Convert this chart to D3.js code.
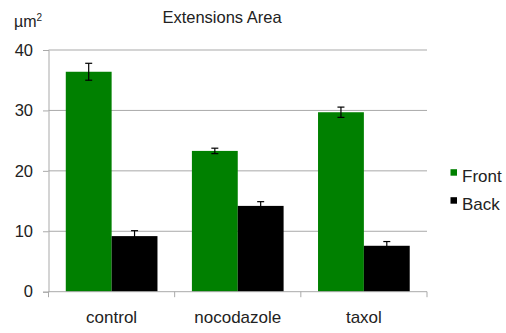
<!DOCTYPE html>
<html>
<head>
<meta charset="utf-8">
<script src="https://cdn.jsdelivr.net/npm/d3@7"></script>
<style>
  html, body { margin: 0; padding: 0; background: #fff; }
  svg { display: block; font-family: "Liberation Sans", Arial, sans-serif; }
</style>
</head>
<body>
<svg id="chart" width="506" height="333"></svg>
<script>
// Treatment groups and measured extension area (µm²), mean ± error
const categories = ["control", "nocodazole", "taxol"];
const seriesNames = ["Front", "Back"];
const frontValues = [36.4, 23.3, 29.7];
const frontErrors = [1.4, 0.45, 0.85];
const backValues = [9.2, 14.2, 7.6];
const backErrors = [0.9, 0.7, 0.7];
const yTicks = [0, 10, 20, 30, 40];

const colors = { Front: "#008000", Back: "#000000" };

const svg = d3.select("#chart");
const margin = { left: 48.5, right: 79, top: 50, bottom: 41.3 };
const W = 506, H = 333;
const plotW = W - margin.left - margin.right;
const plotH = H - margin.top - margin.bottom;

const g = svg.append("g").attr("transform", `translate(${margin.left},${margin.top})`);

const x = d3.scaleBand().domain(categories).range([0, plotW]).paddingInner(0.273).paddingOuter(0.137);
const xBand = d3.scaleBand().domain(d3.range(categories.length)).range([0, plotW]);
const xSeries = d3.scaleBand().domain(seriesNames).range([0, x.bandwidth()]);
const y = d3.scaleLinear().domain([0, 40]).range([plotH, 0]);

// horizontal gridlines
g.append("g").selectAll("line").data(yTicks.filter(t => t > 0)).join("line")
  .attr("x1", 0).attr("x2", plotW)
  .attr("y1", d => y(d)).attr("y2", d => y(d))
  .attr("stroke", "#a9a9a9").attr("stroke-width", 1);

// y axis
const yAxis = g.append("g").call(d3.axisLeft(y).tickValues(yTicks).tickSize(5.5).tickPadding(10));
yAxis.select(".domain").attr("stroke", "#a9a9a9");
yAxis.selectAll(".tick line").attr("stroke", "#a9a9a9");
yAxis.selectAll(".tick text").attr("font-size", 16.5).attr("fill", "#222")
  .attr("font-family", "Liberation Sans, Arial, sans-serif");

// bars
const rows = [];
categories.forEach((c, i) => {
  rows.push({ cat: c, s: "Front", v: frontValues[i], e: frontErrors[i] });
  rows.push({ cat: c, s: "Back", v: backValues[i], e: backErrors[i] });
});

g.append("g").selectAll("rect").data(rows).join("rect")
  .attr("x", d => x(d.cat) + xSeries(d.s))
  .attr("width", xSeries.bandwidth())
  .attr("y", d => y(d.v))
  .attr("height", d => y(0) - y(d.v))
  .attr("fill", d => colors[d.s]);

// error bars
const eb = g.append("g").attr("stroke", "#000").attr("stroke-width", 1.2);
rows.forEach(d => {
  const cx = x(d.cat) + xSeries(d.s) + xSeries.bandwidth() / 2;
  eb.append("line").attr("x1", cx).attr("x2", cx).attr("y1", y(d.v + d.e)).attr("y2", y(d.v - d.e));
  eb.append("line").attr("x1", cx - 3.5).attr("x2", cx + 3.5).attr("y1", y(d.v + d.e)).attr("y2", y(d.v + d.e));
  eb.append("line").attr("x1", cx - 3.5).attr("x2", cx + 3.5).attr("y1", y(d.v - d.e)).attr("y2", y(d.v - d.e));
});

// x axis with tick marks at category boundaries
const xAxisG = g.append("g").attr("transform", `translate(0,${plotH})`);
xAxisG.append("line").attr("x1", 0).attr("x2", plotW).attr("y1", 0).attr("y2", 0).attr("stroke", "#a9a9a9");
xAxisG.selectAll("line.b").data(d3.range(categories.length + 1)).join("line").attr("class", "b")
  .attr("x1", i => i * xBand.step()).attr("x2", i => i * xBand.step())
  .attr("y1", 0).attr("y2", 5.5).attr("stroke", "#a9a9a9");
xAxisG.selectAll("text").data(categories).join("text")
  .attr("x", d => x(d) + x.bandwidth() / 2)
  .attr("y", 31.5)
  .attr("text-anchor", "middle")
  .attr("font-size", 17).attr("fill", "#222")
  .text(d => d);

// title and unit label
svg.append("text").attr("x", 222).attr("y", 23.3).attr("text-anchor", "middle")
  .attr("font-size", 16.5).attr("fill", "#222").text("Extensions Area");
const unit = svg.append("text").attr("x", 14).attr("y", 26.5).attr("font-size", 16).attr("fill", "#222");
unit.append("tspan").text("µm");
unit.append("tspan").attr("font-size", 10).attr("dy", -6).text("2");

// legend
const lg = svg.append("g");
seriesNames.forEach((s, i) => {
  const cy = 172.5 + i * 28;
  lg.append("rect").attr("x", 450.5).attr("y", cy - 3.3).attr("width", 6.5).attr("height", 6.5).attr("fill", colors[s]);
  lg.append("text").attr("x", 462).attr("y", cy + 9).attr("font-size", 17).attr("fill", "#222").text(s);
});
</script>
</body>
</html>
